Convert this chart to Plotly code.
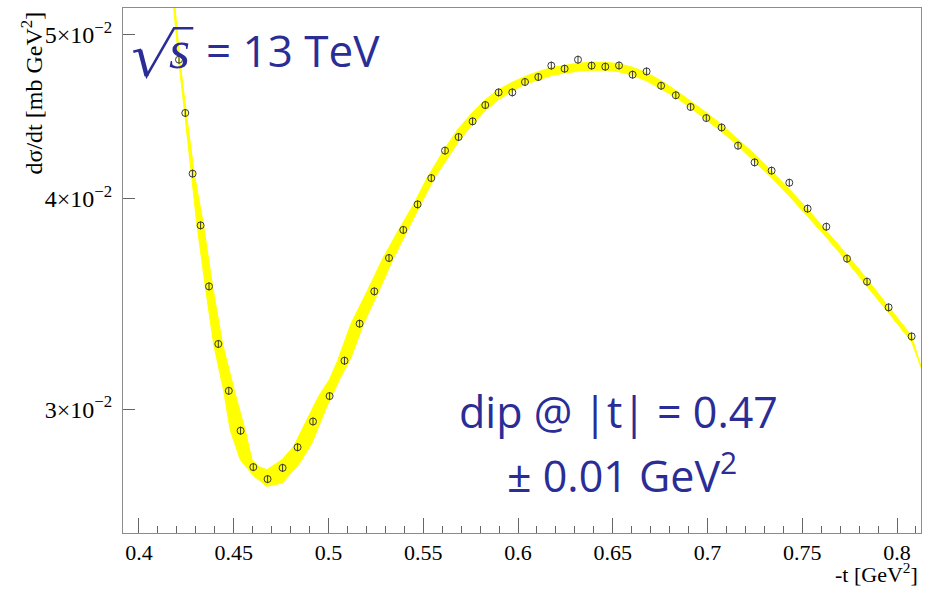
import plotly.graph_objects as go

# measured points: -t [GeV^2] and dsigma/dt [mb/GeV^2]
t_data = [0.42111, 0.42443, 0.42829, 0.43251, 0.43694, 0.44185, 0.44739, 0.45361, 0.46032, 0.46786,
          0.47578, 0.48369, 0.49182, 0.50058, 0.50844, 0.51641, 0.52417, 0.53193, 0.53947, 0.54702,
          0.55425, 0.56148, 0.56865, 0.57604, 0.58274, 0.58976, 0.59699, 0.60369, 0.61071, 0.61757,
          0.62459, 0.63166, 0.63884, 0.64607, 0.65330, 0.66047, 0.66786, 0.67551, 0.68327, 0.69108,
          0.69937, 0.70744, 0.71609, 0.72485, 0.73383, 0.74317, 0.75282, 0.76269, 0.77361, 0.78417,
          0.79557, 0.80771]
dsdt = [0.04833, 0.04494, 0.04137, 0.03855, 0.03547, 0.03279, 0.03076, 0.02913, 0.02772, 0.02727,
        0.02769, 0.02848, 0.02950, 0.03054, 0.03205, 0.03371, 0.03523, 0.03687, 0.03831, 0.03967,
        0.04112, 0.04269, 0.04349, 0.04443, 0.04543, 0.04622, 0.04622, 0.04688, 0.04720, 0.04794,
        0.04774, 0.04833, 0.04794, 0.04787, 0.04795, 0.04735, 0.04756, 0.04664, 0.04604, 0.04531,
        0.04463, 0.04406, 0.04298, 0.04201, 0.04154, 0.04086, 0.03944, 0.03848, 0.03684, 0.03570,
        0.03447, 0.03313]
err_pct = 0.55

# fit uncertainty band: lower edge and upper edge
t_lo = [0.41799, 0.42090, 0.42406, 0.42749, 0.43061, 0.43499, 0.43937, 0.44464, 0.44818, 0.45346,
        0.46032, 0.46755, 0.47546, 0.48422, 0.49129, 0.49884, 0.50623, 0.51187, 0.51852, 0.52644,
        0.53435, 0.54174, 0.54881, 0.55583, 0.56164, 0.56850, 0.57588, 0.58274, 0.58960, 0.59699,
        0.60385, 0.61071, 0.61757, 0.62443, 0.63182, 0.63868, 0.64607, 0.65293, 0.66032, 0.66771,
        0.67562, 0.68317, 0.69108, 0.69937, 0.70744, 0.71609, 0.72485, 0.73383, 0.74317, 0.75282,
        0.76269, 0.77361, 0.78417, 0.79557, 0.80771, 0.81266]
v_lo = [0.05231, 0.04833, 0.04496, 0.04137, 0.03855, 0.03547, 0.03279, 0.03078, 0.02913, 0.02800,
        0.02740, 0.02700, 0.02712, 0.02781, 0.02865, 0.03006, 0.03131, 0.03218, 0.03371, 0.03523,
        0.03687, 0.03831, 0.03967, 0.04112, 0.04205, 0.04321, 0.04423, 0.04508, 0.04576, 0.04630,
        0.04674, 0.04703, 0.04729, 0.04745, 0.04758, 0.04764, 0.04764, 0.04755, 0.04732, 0.04696,
        0.04645, 0.04592, 0.04526, 0.04454, 0.04381, 0.04297, 0.04208, 0.04113, 0.04012, 0.03905,
        0.03793, 0.03669, 0.03549, 0.03421, 0.03289, 0.03176]
t_hi = [0.41879, 0.42153, 0.42496, 0.42918, 0.43409, 0.43884, 0.44412, 0.45029, 0.45610, 0.45963,
        0.46348, 0.46755, 0.47546, 0.48158, 0.48865, 0.49462, 0.50042, 0.50480, 0.51187, 0.52032,
        0.52876, 0.53699, 0.54491, 0.55198, 0.56164, 0.56850, 0.57588, 0.58274, 0.58960, 0.59699,
        0.60385, 0.61071, 0.61757, 0.62443, 0.63182, 0.63868, 0.64607, 0.65293, 0.66032, 0.66771,
        0.67562, 0.68317, 0.69108, 0.69937, 0.70744, 0.71609, 0.72485, 0.73383, 0.74317, 0.75282,
        0.76269, 0.77361, 0.78417, 0.79557, 0.80771, 0.81266]
v_hi = [0.05231, 0.04833, 0.04496, 0.04137, 0.03855, 0.03547, 0.03279, 0.03078, 0.02913, 0.02800,
        0.02773, 0.02762, 0.02800, 0.02851, 0.02957, 0.03051, 0.03123, 0.03205, 0.03371, 0.03523,
        0.03687, 0.03831, 0.03967, 0.04112, 0.04286, 0.04399, 0.04496, 0.04576, 0.04639, 0.04687,
        0.04725, 0.04755, 0.04781, 0.04797, 0.04810, 0.04816, 0.04816, 0.04807, 0.04784, 0.04748,
        0.04696, 0.04636, 0.04570, 0.04497, 0.04423, 0.04338, 0.04248, 0.04153, 0.04050, 0.03942,
        0.03830, 0.03704, 0.03583, 0.03453, 0.03315, 0.03181]

x_tickvals = [0.4, 0.45, 0.5, 0.55, 0.6, 0.65, 0.7, 0.75, 0.8]
x_ticktext = ["0.4", "0.45", "0.5", "0.55", "0.6", "0.65", "0.7", "0.75", "0.8"]
y_tickvals = [0.03, 0.04, 0.05]
y_ticktext = ["3\u00d710<sup>\u22122</sup>", "4\u00d710<sup>\u22122</sup>", "5\u00d710<sup>\u22122</sup>"]

BLUE = "#2B2D96"
AX = "#8c8c8c"
SERIF = "Liberation Serif"

fig = go.Figure()
fig.add_trace(go.Scatter(
    x=t_lo + t_hi[::-1], y=v_lo + v_hi[::-1],
    mode="lines", fill="toself", fillcolor="#ffff00",
    line=dict(color="#ffff00", width=1), hoverinfo="skip", showlegend=False))
fig.add_trace(go.Scatter(
    x=t_data, y=dsdt, mode="markers",
    marker=dict(symbol="circle-open", size=7, color="#3a3a3a", line=dict(width=1)),
    error_y=dict(type="percent", value=err_pct, width=0, thickness=1, color="#3a3a3a"),
    showlegend=False))

fig.update_layout(
    width=937, height=591,
    margin=dict(l=123, r=16, t=8, b=58),
    paper_bgcolor="white", plot_bgcolor="white",
    font=dict(family=SERIF, size=22, color="black"),
    xaxis=dict(range=[0.39156, 0.81266], tickvals=x_tickvals, ticktext=x_ticktext,
               ticks="inside", ticklen=15, tickwidth=1, tickcolor="#666",
               minor=dict(dtick=0.01, tick0=0.4, ticks="inside", ticklen=7, tickwidth=1, tickcolor="#666"),
               showline=True, linecolor=AX, linewidth=1, mirror=True,
               showgrid=False, zeroline=False, ticklabelstandoff=0,
               tickfont=dict(family=SERIF, size=22, color="black")),
    yaxis=dict(type="log", range=[-1.59627, -1.28516], tickvals=y_tickvals, ticktext=y_ticktext,
               ticks="inside", ticklen=12, tickwidth=1, tickcolor="#666",
               showline=True, linecolor=AX, linewidth=1, mirror=True,
               showgrid=False, zeroline=False, ticklabelstandoff=5,
               tickfont=dict(family=SERIF, size=24, color="black")),
)

# radical sign for sqrt(s)
fig.add_shape(type="path", xref="paper", yref="paper",
              path="M 0.0129,0.9168 L 0.0213,0.9200 L 0.0297,0.8705 L 0.0639,0.9613 L 0.0881,0.9613",
              line=dict(color=BLUE, width=2.5))
fig.add_shape(type="line", xref="paper", yref="paper",
              x0=0.0213, y0=0.9200, x1=0.0297, y1=0.8705,
              line=dict(color=BLUE, width=4.5))

annotations = [
    dict(text="<i>s</i>", x=(179.5 - 123) / 798, y=(533 - 50) / 525, xref="paper", yref="paper",
         xanchor="center", yanchor="middle", showarrow=False,
         font=dict(family=SERIF, size=54, color=BLUE)),
    dict(text="= 13 TeV", x=(204 - 123) / 798, y=(533 - 50) / 525, xref="paper", yref="paper",
         xanchor="left", yanchor="middle", showarrow=False,
         font=dict(family="Open Sans", size=44, color=BLUE)),
    dict(text="dip @ |t| = 0.47", x=(618 - 123) / 798, y=(533 - 411) / 525, xref="paper", yref="paper",
         xanchor="center", yanchor="middle", showarrow=False,
         font=dict(family="Open Sans", size=43, color=BLUE)),
    dict(text="\u00b1 0.01 GeV<sup>2</sup>", x=(622 - 123) / 798, y=(533 - 473) / 525,
         xref="paper", yref="paper", xanchor="center", yanchor="middle", showarrow=False,
         font=dict(family="Open Sans", size=43, color=BLUE)),
    dict(text="-t [GeV<sup>2</sup>]", x=(920 - 123) / 798, y=(533 - 573) / 525,
         xref="paper", yref="paper", xanchor="right", yanchor="middle", showarrow=False,
         font=dict(family=SERIF, size=22, color="black")),
    dict(text="d\u03c3/dt [mb GeV<sup>2</sup>]", x=(31 - 123) / 798, y=(533 - 10) / 525,
         xref="paper", yref="paper", xanchor="center", yanchor="top", textangle=-90, showarrow=False,
         font=dict(family=SERIF, size=24, color="black")),
]
fig.update_layout(annotations=annotations)

fig.write_html("out.html", config={"displayModeBar": False},
               post_script="document.body.style.margin='0px';")
